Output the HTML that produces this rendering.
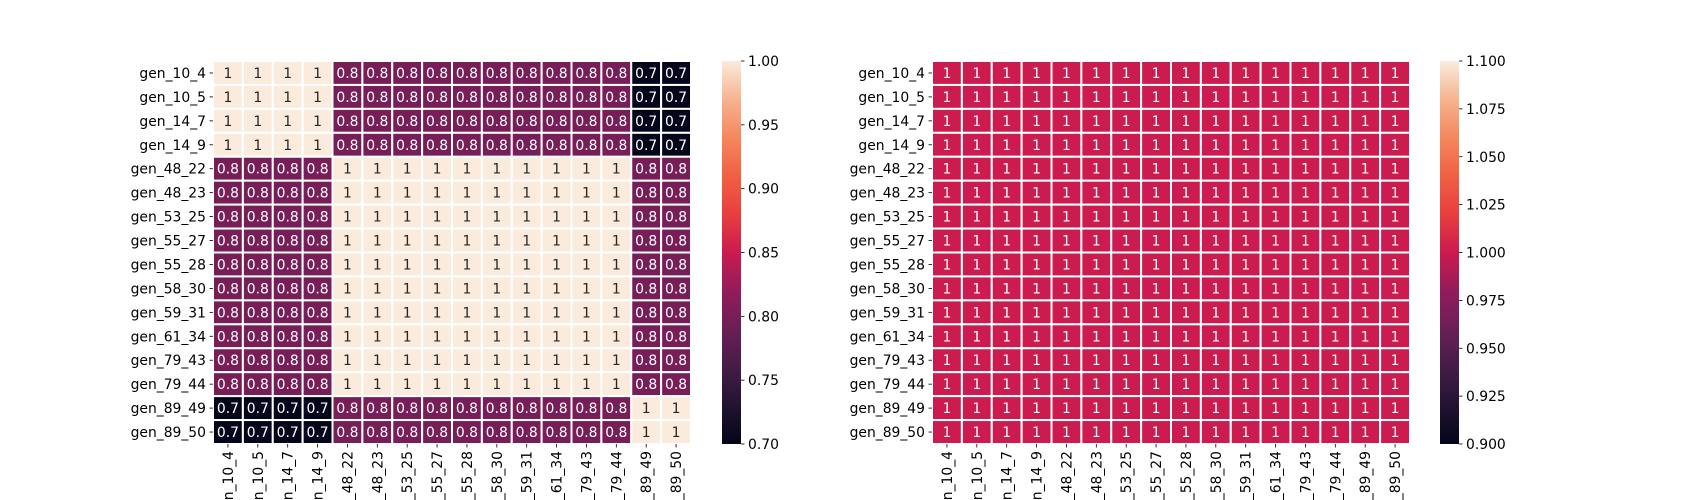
<!DOCTYPE html>
<html><head><meta charset="utf-8"><style>
html,body{margin:0;padding:0;background:#fff;width:1700px;height:500px;overflow:hidden;}
svg{display:block;overflow:hidden;font-family:"DejaVu Sans","Liberation Sans",sans-serif;}
</style></head><body>
<svg id="fig" width="1700" height="500" viewBox="0 0 1700 500" xmlns="http://www.w3.org/2000/svg">
<defs>
<linearGradient id="rocket" x1="0" y1="1" x2="0" y2="0">
<stop offset="0" stop-color="#03051a"/><stop offset="0.1" stop-color="#221331"/><stop offset="0.2" stop-color="#451c47"/><stop offset="0.3" stop-color="#6a1f56"/><stop offset="0.4" stop-color="#921c5b"/><stop offset="0.5" stop-color="#cb1b4f"/><stop offset="0.6" stop-color="#e83f3f"/><stop offset="0.7" stop-color="#f06043"/><stop offset="0.8" stop-color="#f4875e"/><stop offset="0.9" stop-color="#f6b48f"/><stop offset="1" stop-color="#faebdd"/>
</linearGradient>
</defs>
</svg>
<script>
const labels = ["gen_10_4","gen_10_5","gen_14_7","gen_14_9","gen_48_22","gen_48_23","gen_53_25","gen_55_27","gen_55_28","gen_58_30","gen_59_31","gen_61_34","gen_79_43","gen_79_44","gen_89_49","gen_89_50"];
const rowA = [1,1,1,1,0.8,0.8,0.8,0.8,0.8,0.8,0.8,0.8,0.8,0.8,0.7,0.7];
const rowB = [0.8,0.8,0.8,0.8,1,1,1,1,1,1,1,1,1,1,0.8,0.8];
const rowC = [0.7,0.7,0.7,0.7,0.8,0.8,0.8,0.8,0.8,0.8,0.8,0.8,0.8,0.8,1,1];
const leftMatrix = [rowA,rowA,rowA,rowA,rowB,rowB,rowB,rowB,rowB,rowB,rowB,rowB,rowB,rowB,rowC,rowC];
const rowOnes = [1,1,1,1,1,1,1,1,1,1,1,1,1,1,1,1];
const rightMatrix = labels.map(()=>rowOnes);
const leftTicks = [0.70,0.75,0.80,0.85,0.90,0.95,1.00];
const leftTickText = ["0.70","0.75","0.80","0.85","0.90","0.95","1.00"];
const rightTicks = [0.900,0.925,0.950,0.975,1.000,1.025,1.050,1.075,1.100];
const rightTickText = ["0.900","0.925","0.950","0.975","1.000","1.025","1.050","1.075","1.100"];

const stops = [[0,"#03051a"],[0.1,"#221331"],[0.2,"#451c47"],[0.3,"#6a1f56"],[0.4,"#921c5b"],[0.5,"#cb1b4f"],[0.6,"#e83f3f"],[0.7,"#f06043"],[0.8,"#f4875e"],[0.9,"#f6b48f"],[1,"#faebdd"]];
function hex(c){return [1,3,5].map(i=>parseInt(c.substr(i,2),16));}
function cmap(t){t=Math.max(0,Math.min(1,t));for(let i=1;i<stops.length;i++){if(t<=stops[i][0]){const a=stops[i-1],b=stops[i];const f=(t-a[0])/(b[0]-a[0]);const ca=hex(a[1]),cb=hex(b[1]);return "rgb("+ca.map((v,k)=>Math.round(v+(cb[k]-v)*f)).join(",")+")";}}return stops[stops.length-1][1];}
const NS="http://www.w3.org/2000/svg";
const svg=document.getElementById("fig");
function mk(tag,attrs,parent){const e=document.createElementNS(NS,tag);for(const k in attrs)e.setAttribute(k,attrs[k]);(parent||svg).appendChild(e);return e;}

function heatmap(prefix,matrix,x0,vmin,vmax,cbx,ticks,tickText){
  const y0=61,W=478,H=383,n=labels.length,cw=W/n,ch=H/n;
  const g=mk("g",{});
  
  
  const xs=i=>x0+i*cw, ys=j=>y0+j*ch;
  const norm=v=>(vmax===vmin)?0.5:(v-vmin)/(vmax-vmin);
  matrix.forEach((row,j)=>row.forEach((v,i)=>{
    const t=(vmax===vmin)?0.5:norm(v);
    const r=mk("rect",{x:xs(i),y:ys(j),width:cw,height:ch,fill:cmap(t),stroke:"#fff","stroke-width":2},g);
    
    
    const tx=mk("text",{x:xs(i)+cw/2,y:ys(j)+ch/2+5,"text-anchor":"middle","font-size":"13.9px",fill:t>0.6?"#262626":"#ffffff"},g);
    tx.textContent=String(v);
    
    
  }));
  labels.forEach((l,j)=>{
    const yc=ys(j)+ch/2;
    mk("line",{x1:x0-3.5,x2:x0,y1:yc,y2:yc,stroke:"#000","stroke-width":0.8},g);
    const t=mk("text",{x:x0-7,y:yc+5,"text-anchor":"end","font-size":"13.9px",fill:"#000"},g);
    t.textContent=l;
    
    
  });
  labels.forEach((l,i)=>{
    const xc=xs(i)+cw/2;
    mk("line",{x1:xc,x2:xc,y1:y0+H,y2:y0+H+3.5,stroke:"#000","stroke-width":0.8},g);
    const t=mk("text",{x:0,y:0,"text-anchor":"end","font-size":"13.9px",fill:"#000",transform:`translate(${xc+5},${y0+H+7}) rotate(-90)`},g);
    t.textContent=l;
    
    
  });
  const cb=mk("g",{});
  
  
  mk("rect",{x:cbx,y:y0,width:19,height:H,fill:"url(#rocket)"},cb);
  ticks.forEach((v,k)=>{
    const yy=y0+H-(v-ticks[0])/(ticks[ticks.length-1]-ticks[0])*H;
    mk("line",{x1:cbx+19,x2:cbx+22.5,y1:yy,y2:yy,stroke:"#000","stroke-width":0.8},cb);
    const t=mk("text",{x:cbx+26,y:yy+5,"font-size":"13.9px",fill:"#000"},cb);
    t.textContent=tickText[k];
    
    
  });
}
heatmap("left",leftMatrix,213,0.7,1.0,722,leftTicks,leftTickText);
heatmap("right",rightMatrix,932,1,1,1440,rightTicks,rightTickText);
</script>
</body></html>
